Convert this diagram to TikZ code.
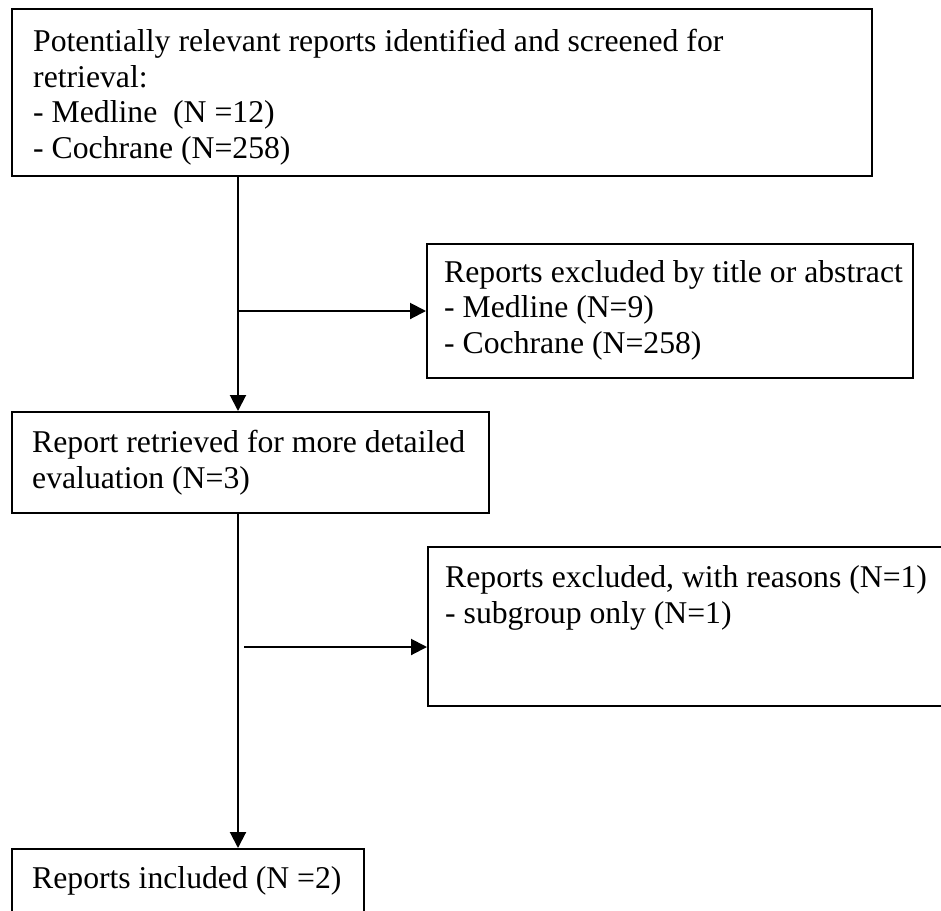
\documentclass[tikz,border=0pt]{standalone}
\usepackage{fontspec}
\setmainfont{Liberation Serif}
\usetikzlibrary{arrows.meta}
\begin{document}
\begin{tikzpicture}[x=1pt,y=-1pt,
  box/.style={draw, line width=2pt, anchor=north west, inner sep=0pt, rectangle},
  txt/.style={anchor=base west, align=left, inner sep=0pt, font=\fontsize{31.7}{35.5}\selectfont},
  conn/.style={line width=2pt, -{Triangle[length=16pt,width=16pt]}}]
\useasboundingbox (0,0) rectangle (941,910);
\clip (0,0) rectangle (941,910);
% boxes
\node[box, minimum width=860pt, minimum height=167pt] (b1) at (11,8) {};
\node[box, minimum width=486pt, minimum height=134pt] (b2) at (426,243) {};
\node[box, minimum width=477pt, minimum height=101pt] (b3) at (11,411) {};
\node[box, minimum width=560pt, minimum height=159pt] (b4) at (427,546) {};
\node[box, minimum width=352pt, minimum height=120pt] (b5) at (11,848) {};
% texts (anchored at the baseline of their last line)
\node[txt] (t1) at (33,158) {Potentially relevant reports identified and screened for\\retrieval:\\- Medline~ (N =12)\\- Cochrane (N=258)};
\node[txt] (t2) at (444,353) {Reports excluded by title or abstract\\- Medline (N=9)\\- Cochrane (N=258)};
\node[txt] (t3) at (32,488) {Report retrieved for more detailed\\evaluation (N=3)};
\node[txt] (t4) at (445,623) {Reports excluded, with reasons (N=1)\\- subgroup only (N=1)};
\node[txt] (t5) at (32,888) {Reports included (N =2)};
% connectors
\coordinate (trunk) at (238,0);
\coordinate (j1) at (238,311);
\coordinate (j2) at (244,647);
\draw[conn] (b1.south -| trunk) -- (b3.north -| trunk);
\draw[conn] (j1) -- (j1 -| b2.west);
\draw[conn] (b3.south -| trunk) -- (b5.north -| trunk);
\draw[conn] (j2) -- (j2 -| b4.west);
\end{tikzpicture}
\end{document}
